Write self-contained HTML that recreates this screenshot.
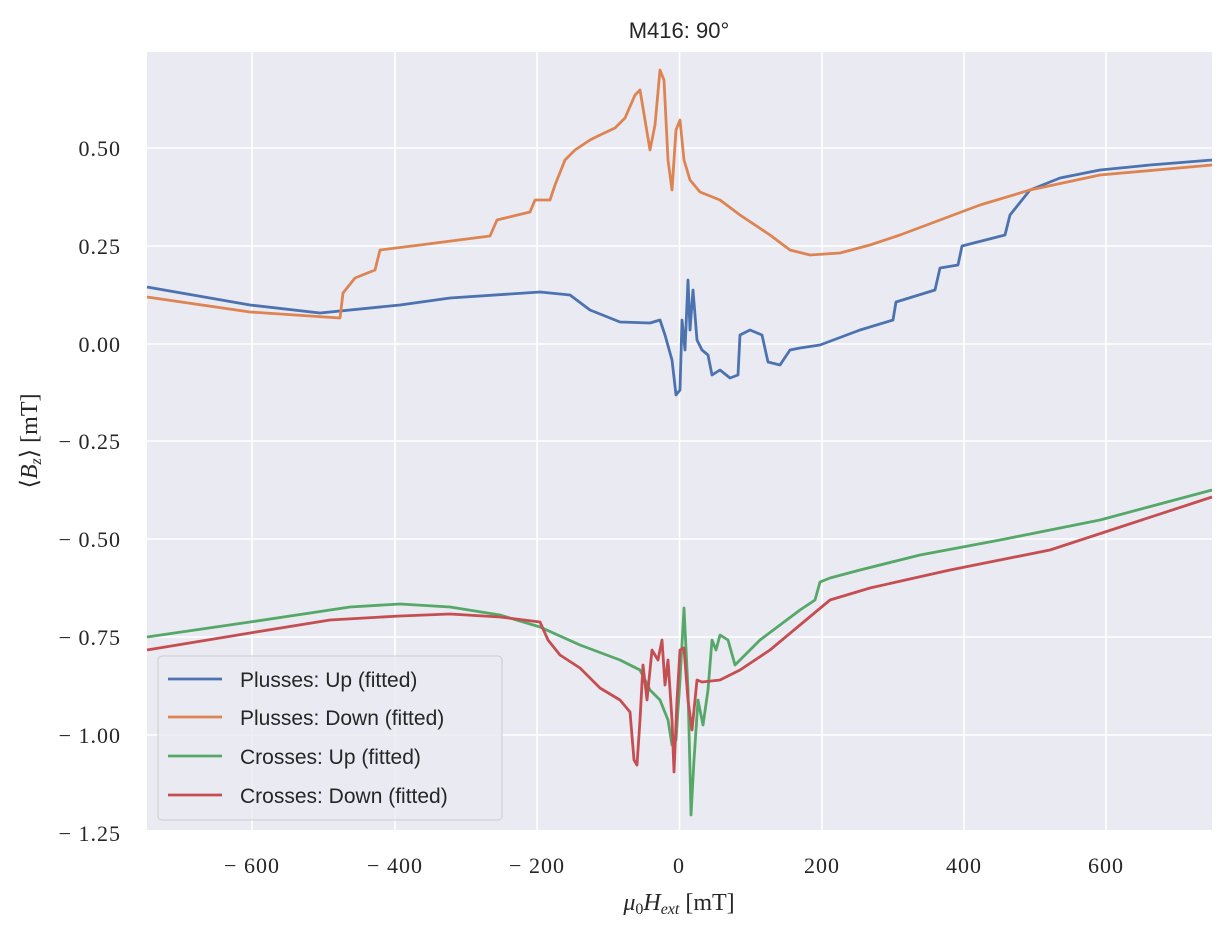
<!DOCTYPE html>
<html><head><meta charset="utf-8"><style>
body{margin:0;background:#fff;}
svg text{font-family:"Liberation Serif",serif;fill:#262626;}
.s{font-family:"Liberation Sans","DejaVu Sans",sans-serif !important;}
.t{letter-spacing:1px;}
</style></head><body>
<svg width="1230" height="936" xmlns="http://www.w3.org/2000/svg">
<rect x="147" y="52" width="1065" height="778" fill="#eaeaf2"/>
<g stroke="#fff" stroke-width="1.6">
<line x1="252" y1="52" x2="252" y2="830"/><line x1="395" y1="52" x2="395" y2="830"/><line x1="537" y1="52" x2="537" y2="830"/><line x1="679.5" y1="52" x2="679.5" y2="830"/><line x1="822" y1="52" x2="822" y2="830"/><line x1="964" y1="52" x2="964" y2="830"/><line x1="1106" y1="52" x2="1106" y2="830"/>
<line x1="147" y1="148" x2="1212" y2="148"/><line x1="147" y1="246" x2="1212" y2="246"/><line x1="147" y1="344" x2="1212" y2="344"/><line x1="147" y1="441" x2="1212" y2="441"/><line x1="147" y1="539" x2="1212" y2="539"/><line x1="147" y1="637" x2="1212" y2="637"/><line x1="147" y1="735" x2="1212" y2="735"/>
</g>
<g font-size="22" text-anchor="middle" class="t">
<text x="252" y="873">− 600</text><text x="395" y="873">− 400</text><text x="537" y="873">− 200</text><text x="679" y="873">0</text><text x="822" y="873">200</text><text x="964" y="873">400</text><text x="1106" y="873">600</text>
</g>
<g font-size="22" text-anchor="end" class="t">
<text x="121" y="156">0.50</text><text x="121" y="254">0.25</text><text x="121" y="352">0.00</text><text x="121" y="449">− 0.25</text><text x="121" y="547">− 0.50</text><text x="121" y="645">− 0.75</text><text x="121" y="743">− 1.00</text><text x="121" y="841">− 1.25</text>
</g>
<text x="679" y="910" font-size="24" text-anchor="middle"><tspan font-style="italic">μ</tspan><tspan font-size="16" dy="4">0</tspan><tspan dy="-4" font-style="italic">H</tspan><tspan font-size="16" dy="4" font-style="italic">ext</tspan><tspan dy="-4"> [mT]</tspan></text>
<text transform="translate(37,441) rotate(-90)" font-size="24" text-anchor="middle">⟨<tspan font-style="italic">B</tspan><tspan font-size="16" dy="4" font-style="italic">z</tspan><tspan dy="-4">⟩ [mT]</tspan></text>
<text class="s" x="679" y="38" font-size="22" text-anchor="middle">M416: 90°</text>
<g fill="none" stroke-width="2.8" stroke-linejoin="round">
<polyline stroke="#4c72b0" points="147,287 250,305 320,313 400,305 450,298 540,292 570,295 590,310 620,322 650,323 660,320 665,335 672,360 676,395 680,390 682,320 685,350 688,280 690,330 693,290 697,340 702,350 708,355 712,375 720,370 730,378 738,375 740,335 750,330 762,335 768,362 780,365 790,350 800,348 820,345 860,330 893,320 896,302 935,290 940,268 958,265 962,246 1005,235 1010,215 1022,200 1030,190 1060,178 1100,170 1150,165 1212,160"/>
<polyline stroke="#dd8452" points="147,297 250,312 340,318 343,293 355,278 375,270 380,250 420,245 490,236 497,220 530,212 535,200 550,200 555,185 565,160 575,150 590,140 600,135 615,128 625,118 635,95 640,90 645,120 650,150 655,125 660,70 664,80 668,160 672,190 676,130 680,120 684,160 690,180 700,192 720,200 740,215 770,235 790,250 810,255 840,253 870,245 900,235 940,220 980,205 1030,190 1100,175 1212,165"/>
<polyline stroke="#55a868" points="147,637 250,622 350,607 400,604 450,607 500,615 540,627 580,645 620,660 640,670 650,690 660,700 668,720 672,745 676,740 680,680 684,608 688,690 690,770 691,815 694,760 698,700 703,725 708,690 712,640 716,650 720,635 728,640 735,665 745,655 760,640 800,610 815,600 820,582 830,578 860,570 920,555 1000,540 1100,520 1212,490"/>
<polyline stroke="#c44e52" points="147,650 250,633 330,620 400,616 450,614 500,617 540,622 548,640 560,655 580,668 600,688 620,700 630,712 634,760 637,765 640,720 643,665 647,700 652,650 658,660 662,640 665,685 668,660 672,720 674,772 677,700 680,650 684,648 688,700 692,730 697,680 702,682 720,680 740,670 770,650 800,625 830,600 870,588 950,570 1050,550 1212,497"/>
</g>
<rect x="158" y="656" width="344" height="164" rx="4" fill="#eaeaf2" fill-opacity="0.8" stroke="#ccc"/>
<g stroke-width="2.8">
<line x1="168" y1="679" x2="222" y2="679" stroke="#4c72b0"/>
<line x1="168" y1="717" x2="222" y2="717" stroke="#dd8452"/>
<line x1="168" y1="756" x2="222" y2="756" stroke="#55a868"/>
<line x1="168" y1="795" x2="222" y2="795" stroke="#c44e52"/>
</g>
<g font-size="21">
<text class="s" x="240" y="687">Plusses: Up (fitted)</text>
<text class="s" x="240" y="725">Plusses: Down (fitted)</text>
<text class="s" x="240" y="764">Crosses: Up (fitted)</text>
<text class="s" x="240" y="803">Crosses: Down (fitted)</text>
</g>
</svg>
</body></html>
